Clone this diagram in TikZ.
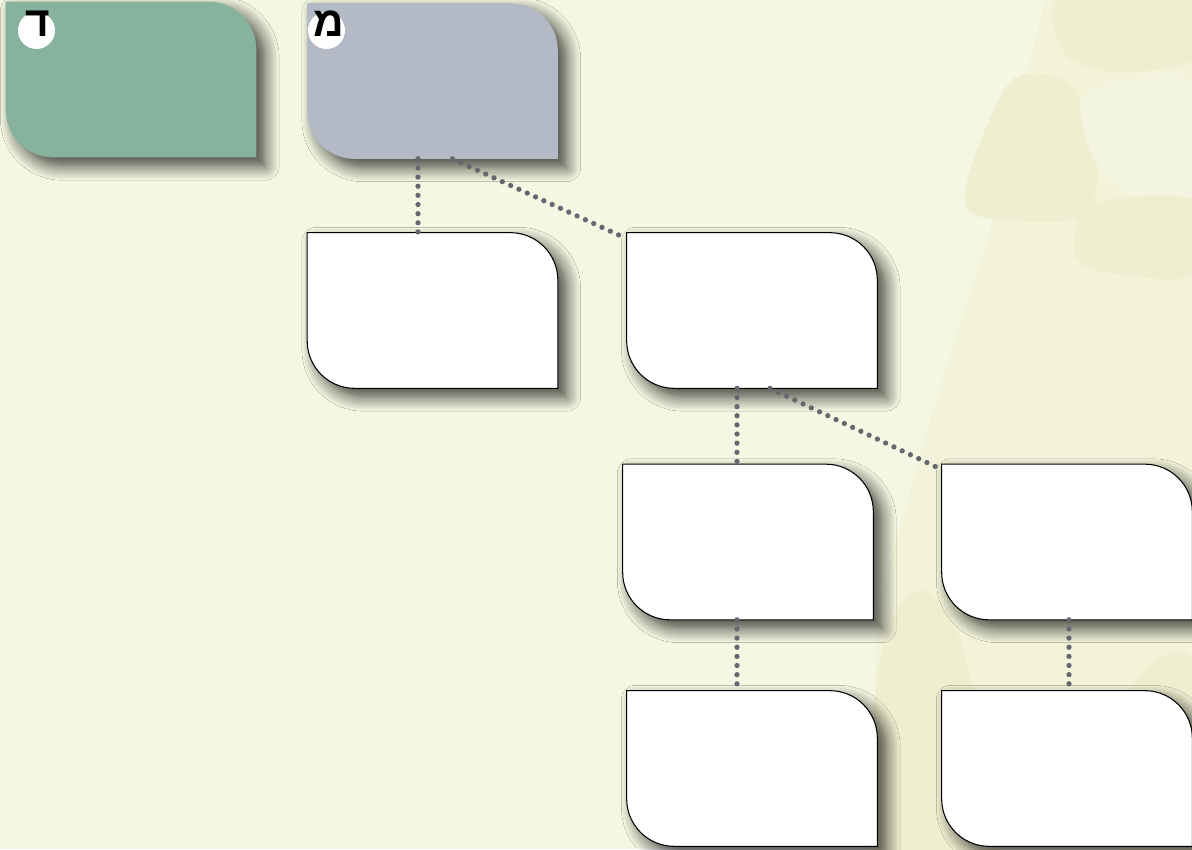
\documentclass[tikz,border=0pt]{standalone}
\usepackage{fontspec}
\newfontfamily\hebfont[Script=Hebrew]{Liberation Sans}
\TeXXeTstate=1
\usepackage{xcolor}
\definecolor{colBack}{HTML}{F4F7E1}
\definecolor{colBand}{HTML}{F2F3D9}
\definecolor{colBlob}{HTML}{F0EED0}
\definecolor{colLight}{HTML}{F4F5E0}
\definecolor{colGreen}{HTML}{87B39E}
\definecolor{colGrey}{HTML}{B3BAC6}
\definecolor{colDots}{HTML}{66676F}
\usetikzlibrary{positioning, calc, shadows.blur}

\tikzset{
	tagbox/.style={minimum width=5cm, minimum height=3.1cm, inner sep=0pt},
	boxshadow/.style={blur shadow={shadow xshift=5pt, shadow yshift=-5pt,
		shadow blur radius=8pt, shadow opacity=75, shadow blur steps=10}},
	dotline/.style={colDots, line width=3pt, line cap=round,
		dash pattern=on 0pt off 5.2pt},
	badge/.style={circle, fill=white, minimum size=0.74cm, inner sep=0pt},
	letter/.style={font=\hebfont\bfseries\fontsize{24}{24}\selectfont, inner sep=0pt}
}

% box outline: rounded top right and bottom left
\newcommand{\tagshape}[2]{%
	\path[#2, boxshadow] (#1.north west) -- ([xshift=-0.95cm]#1.north east)
		arc[start angle=90, end angle=0, radius=0.95cm] -- (#1.south east)
		-- ([xshift=0.95cm]#1.south west)
		arc[start angle=270, end angle=180, radius=0.95cm] -- cycle;}

\begin{document}
\begin{tikzpicture}[x=0.02cm, y=0.02cm]
	% background
	\fill[colBack] (0,0) rectangle (1192,849);
	\useasboundingbox (0,0) rectangle (1192,849);
	\fill[colBand] (1045,849) -- (1192,849) -- (1192,0) -- (865,0) -- (880,249)
		-- (930,429) -- (990,619) -- cycle;
	\fill[colBlob] plot[smooth cycle] coordinates {(1062,849) (1192,849) (1192,789)
		(1120,777) (1075,787) (1058,809)};
	\fill[colBlob] plot[smooth cycle] coordinates {(1012,769) (1050,774) (1080,754)
		(1098,679) (1085,634) (1040,627) (975,634) (965,659) (985,719)};
	\fill[colLight] plot[smooth cycle] coordinates {(1090,759) (1192,769) (1192,649)
		(1140,649) (1100,679) (1082,729)};
	\fill[colBlob] plot[smooth cycle] coordinates {(1090,644) (1192,649) (1192,574)
		(1105,577) (1075,594)};
	\fill[colBlob] plot[smooth cycle] coordinates {(872,0) (882,199) (920,259)
		(960,209) (1000,0)};
	\fill[colBlob] plot[smooth cycle] coordinates {(1120,0) (1130,159) (1192,189)
		(1192,0)};

	% boxes
	\node[tagbox] (dalet) at (131,769.5) {};
	\node[tagbox] (mem) at (432.5,768) {};
	\node[tagbox] (boxA) at (432.5,538.5) {};
	\node[tagbox] (boxB) at (752,538.5) {};
	\node[tagbox] (boxC) at (748,307) {};
	\node[tagbox] (boxD) at (1067,307) {};
	\node[tagbox] (boxE) at (752,80.5) {};
	\node[tagbox] (boxF) at (1067,80.5) {};

	\tagshape{dalet}{fill=colGreen}
	\tagshape{mem}{fill=colGrey}
	\foreach \b in {boxA, boxB, boxC, boxD, boxE, boxF}
		\tagshape{\b}{fill=white, draw=black, line width=0.6pt};

	% badges
	\node[badge] (badgeD) at (36.5,818.5) {};
	\node[letter] (letD) at ([xshift=0.03cm, yshift=0.14cm]badgeD.center) {\beginR ד\endR};
	\node[badge] (badgeM) at (326.5,818.5) {};
	\node[letter] (letM) at ([xshift=0.05cm, yshift=0.13cm]badgeM.center) {\beginR מ\endR};

	% connectors
	\draw[dotline] ([xshift=-0.29cm]mem.south) -- ([xshift=-0.29cm]mem.south |- boxA.north);
	\draw[dotline] ([xshift=0.4cm]mem.south) -- ([yshift=-0.12cm]boxB.north west);
	\draw[dotline] ([xshift=-0.3cm]boxB.south) -- ([xshift=-0.3cm]boxB.south |- boxC.north);
	\draw[dotline] ([xshift=0.36cm]boxB.south) -- ([xshift=-0.1cm, yshift=-0.06cm]boxD.north west);
	\draw[dotline] ([xshift=-0.22cm]boxC.south) -- ([xshift=-0.22cm]boxC.south |- boxE.north);
	\draw[dotline] ([xshift=0.04cm]boxD.south) -- ([xshift=0.04cm]boxD.south |- boxF.north);
\end{tikzpicture}
\end{document}
